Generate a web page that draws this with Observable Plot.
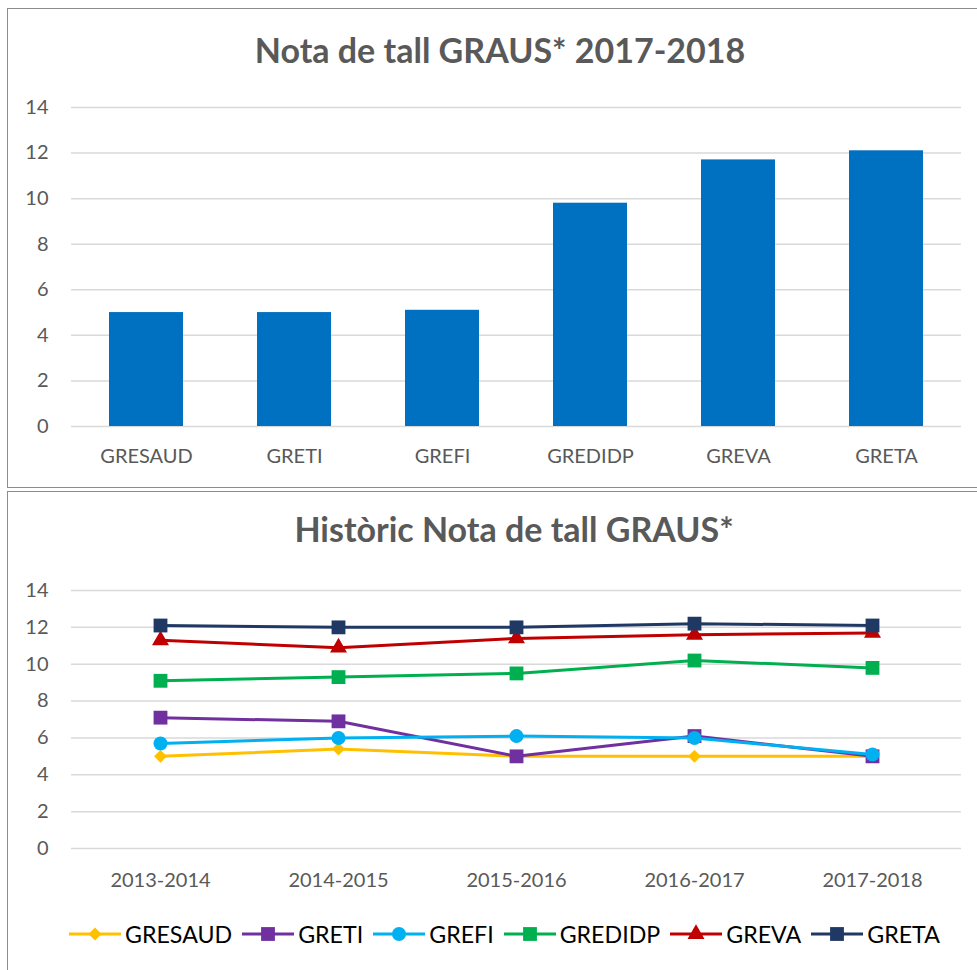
<!DOCTYPE html>
<html><head><meta charset="utf-8">
<script src="https://cdn.jsdelivr.net/npm/d3@7"></script>
<script src="https://cdn.jsdelivr.net/npm/@observablehq/plot@0.6"></script>
<style>
body{margin:0;background:#fff;font-family:Lato,sans-serif;}
#root{position:relative;width:977px;height:970px;overflow:hidden;background:#fff;}
.panel{position:absolute;border:1px solid #8c8c8c;box-sizing:border-box;background:#fff;}
.title{position:absolute;font-weight:700;color:#595959;white-space:nowrap;transform:translateX(-50%);}
#root svg.chart{position:absolute;left:0;}
#legend{position:absolute;left:68px;top:922px;display:flex;align-items:center;height:24px;font-size:23.2px;line-height:24px;color:#000;white-space:nowrap;}
#legend .item{display:flex;align-items:center;margin-right:9px;}
#legend .item svg{margin-right:3px;}
</style></head><body><div id="root"></div>
<script>
// ---- data ----
const categories = ["GRESAUD", "GRETI", "GREFI", "GREDIDP", "GREVA", "GRETA"];
const cutoff2018 = [5.0, 5.0, 5.1, 9.8, 11.7, 12.1];
const years = ["2013-2014", "2014-2015", "2015-2016", "2016-2017", "2017-2018"];
const GRESAUD = [5.0, 5.4, 5.0, 5.0, 5.0];
const GRETI = [7.1, 6.9, 5.0, 6.1, 5.0];
const GREFI = [5.7, 6.0, 6.1, 6.0, 5.1];
const GREDIDP = [9.1, 9.3, 9.5, 10.2, 9.8];
const GREVA = [11.3, 10.9, 11.4, 11.6, 11.7];
const GRETA = [12.1, 12.0, 12.0, 12.2, 12.1];
const yTicks = [0, 2, 4, 6, 8, 10, 12, 14];
const seriesColors = ["#FFC000", "#7030A0", "#00B0F0", "#00B050", "#C00000", "#203864"];
const seriesSymbols = ["diamond2", "square", "circle", "square", "triangle", "square"];
const seriesR = [5.8, 7.8, 7.0, 7.8, 6.3, 7.8];

const seriesValues = [GRESAUD, GRETI, GREFI, GREDIDP, GREVA, GRETA];
const root = document.getElementById("root");

function panel(l, t, w, h) {
  const d = document.createElement("div");
  d.className = "panel";
  Object.assign(d.style, {left: l + "px", top: t + "px", width: w + "px", height: h + "px"});
  root.appendChild(d);
}
function title(text, cx, top, size) {
  const d = document.createElement("div");
  d.className = "title";
  d.textContent = text;
  Object.assign(d.style, {left: cx + "px", top: top + "px", fontSize: size + "px", lineHeight: size + "px"});
  root.appendChild(d);
}
panel(7, 8, 990, 480);
panel(7, 491, 990, 500);
title("Nota de tall GRAUS* 2017-2018", 500, 33, 34);
title("Històric Nota de tall GRAUS*", 514, 512, 34);

const baseStyle = {fontFamily: "Lato, sans-serif", fontSize: "20px", color: "#595959", background: "transparent", overflow: "visible"};

// ---- top bar chart ----
const barData = categories.map((c, i) => ({c, v: cutoff2018[i]}));
const topChart = Plot.plot({
  width: 977, height: 390,
  marginLeft: 71, marginRight: 16, marginTop: 17, marginBottom: 54,
  style: baseStyle,
  x: {domain: categories, paddingInner: 0.5, paddingOuter: 0.25, label: null},
  y: {domain: [0, 14], label: null},
  marks: [
    Plot.gridY(yTicks, {stroke: "#d9d9d9", strokeOpacity: 1, strokeWidth: 1.5}),
    Plot.barY(barData, {x: "c", y: "v", fill: "#0070C0"}),
    Plot.axisX({tickSize: 0, tickPadding: 22, label: null}),
    Plot.axisY(yTicks, {tickSize: 0, tickPadding: 23, label: null})
  ]
});
topChart.classList.add("chart");
topChart.style.top = "90px";
root.appendChild(topChart);

// ---- bottom line chart ----
const marks = [Plot.gridY(yTicks, {stroke: "#d9d9d9", strokeOpacity: 1, strokeWidth: 1.5})];
categories.forEach((name, i) => {
  const data = years.map((y, j) => ({year: y, v: seriesValues[i][j]}));
  marks.push(Plot.lineY(data, {x: "year", y: "v", stroke: seriesColors[i], strokeWidth: 3}));
  marks.push(Plot.dot(data, {x: "year", y: "v", symbol: seriesSymbols[i], r: seriesR[i], fill: seriesColors[i], stroke: "none"}));
});
marks.push(Plot.axisX({tickSize: 0, tickPadding: 24, label: null}));
marks.push(Plot.axisY(yTicks, {tickSize: 0, tickPadding: 23, label: null}));
const bottomChart = Plot.plot({
  width: 977, height: 330,
  marginLeft: 71, marginRight: 16, marginTop: 20, marginBottom: 52,
  style: baseStyle,
  x: {type: "point", domain: years, padding: 0.5, label: null},
  y: {domain: [0, 14], label: null},
  marks
});
bottomChart.classList.add("chart");
bottomChart.style.top = "570px";
root.appendChild(bottomChart);

// ---- legend ----
const symMap = {diamond2: d3.symbolDiamond2, square: d3.symbolSquare, circle: d3.symbolCircle, triangle: d3.symbolTriangle};
const legend = document.createElement("div");
legend.id = "legend";
categories.forEach((name, i) => {
  const item = document.createElement("div");
  item.className = "item";
  const s = d3.create("svg").attr("width", 54).attr("height", 24);
  s.append("line").attr("x1", 1).attr("x2", 53).attr("y1", 12).attr("y2", 12)
    .attr("stroke", seriesColors[i]).attr("stroke-width", 3);
  const r = seriesR[i];
  s.append("path").attr("transform", "translate(27,12)")
    .attr("d", d3.symbol(symMap[seriesSymbols[i]], r * r * Math.PI)())
    .attr("fill", seriesColors[i]);
  item.appendChild(s.node());
  const t = document.createElement("span");
  t.textContent = name;
  item.appendChild(t);
  legend.appendChild(item);
});
root.appendChild(legend);
</script>
</body></html>
